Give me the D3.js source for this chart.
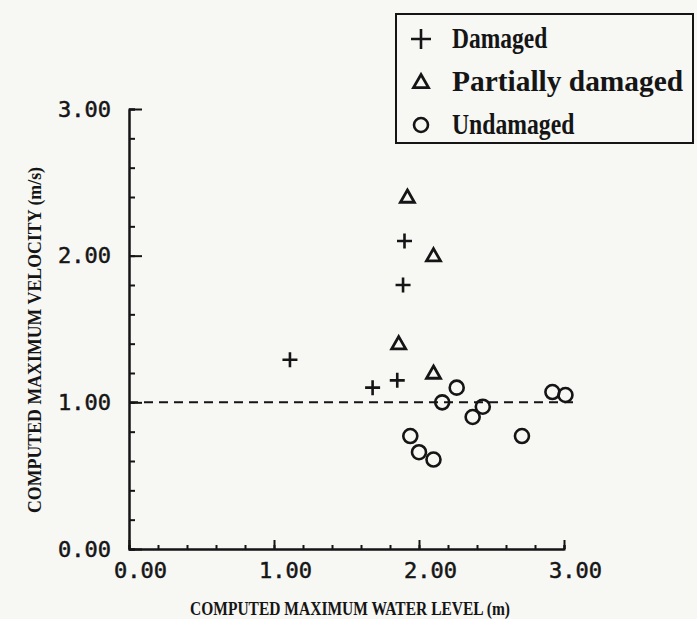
<!DOCTYPE html>
<html>
<head>
<meta charset="utf-8">
<script src="https://cdn.jsdelivr.net/npm/d3@7"></script>
<style>
  html, body { margin: 0; padding: 0; background: #f7f7f4; }
</style>
</head>
<body>
<div id="svg-holder"></div>
<script>
var width = 697;
var height = 619;

// values
var damagedX = [1.11, 1.90, 1.89, 1.85, 1.68];
var damagedY = [1.29, 2.10, 1.80, 1.15, 1.10];
var partialX = [1.92, 2.10, 1.86, 2.10];
var partialY = [2.40, 2.00, 1.40, 1.20];
var undamagedX = [2.26, 2.16, 2.44, 2.37, 1.94, 2.00, 2.10, 2.71, 2.92, 3.01];
var undamagedY = [1.10, 1.00, 0.97, 0.90, 0.77, 0.66, 0.61, 0.77, 1.07, 1.05];
var majorTicks = [0, 1, 2, 3];
var minorTicks = d3.range(0, 3.001, 0.2);
var tickLabels = ["0.00", "1.00", "2.00", "3.00"];
var threshold = 1.0;
var legendLabels = ["Damaged", "Partially damaged", "Undamaged"];
var xTitle = "COMPUTED MAXIMUM WATER LEVEL (m)";
var yTitle = "COMPUTED MAXIMUM VELOCITY (m/s)";

var ink = "#151515";
var typeFont = "Liberation Serif";

var svg = d3.select('#svg-holder').append('svg')
            .attr("width", width)
            .attr("height", height);

svg.append('rect').attr('width', width).attr('height', height).attr('fill', '#f7f7f4');

var x = d3.scaleLinear().domain([0, 3]).range([129, 564]);
var y = d3.scaleLinear().domain([0, 3]).range([549, 109]);

drawAxes();
drawPoints();
drawLegend();

function drawAxes() {
    // minor ticks
    var gxMinor = svg.append('g').attr('transform', 'translate(0,' + y(0) + ')')
        .call(d3.axisBottom(x).tickValues(minorTicks).tickSize(-4).tickFormat(''));
    var gyMinor = svg.append('g').attr('transform', 'translate(' + x(0) + ',0)')
        .call(d3.axisLeft(y).tickValues(minorTicks).tickSize(-6).tickFormat(''));

    // major ticks + labels
    var gx = svg.append('g').attr('transform', 'translate(0,' + y(0) + ')')
        .call(d3.axisBottom(x).tickValues(majorTicks).tickSize(-9).tickSizeOuter(0)
              .tickPadding(13).tickFormat(function(d, i) { return tickLabels[i]; }));
    var gy = svg.append('g').attr('transform', 'translate(' + x(0) + ',0)')
        .call(d3.axisLeft(y).tickValues(majorTicks).tickSize(-13).tickSizeOuter(0)
              .tickPadding(18).tickFormat(function(d, i) { return tickLabels[i]; }));

    [gxMinor, gyMinor, gx, gy].forEach(function(g) {
        g.selectAll('path.domain').attr('stroke', ink).attr('stroke-width', 2);
        g.selectAll('.tick line').attr('stroke', ink).attr('stroke-width', 2);
        g.selectAll('text')
            .attr('fill', ink)
            .attr('stroke', ink).attr('stroke-width', 0.5)
            .attr('font-family', 'DejaVu Sans Mono')
            .attr('font-size', 22);
    });
    gx.selectAll('text').attr('dx', 11);

    // dashed reference line
    svg.append('line')
        .attr('x1', x(0)).attr('x2', x(3.07))
        .attr('y1', y(threshold)).attr('y2', y(threshold))
        .attr('stroke', ink).attr('stroke-width', 2)
        .attr('stroke-dasharray', '9,6');

    svg.append('text')
        .attr('x', 350).attr('y', 615)
        .attr('text-anchor', 'middle')
        .attr('font-family', typeFont).attr('font-weight', 'bold')
        .attr('font-size', 18).attr('fill', ink)
        .attr('textLength', 320).attr('lengthAdjust', 'spacingAndGlyphs')
        .text(xTitle);

    svg.append('text')
        .attr('transform', 'translate(41,340) rotate(-90)')
        .attr('text-anchor', 'middle')
        .attr('font-family', typeFont).attr('font-weight', 'bold')
        .attr('font-size', 18).attr('fill', ink)
        .attr('textLength', 346).attr('lengthAdjust', 'spacingAndGlyphs')
        .text(yTitle);
}

function plus(g, s) {
    g.append('path').attr('d', 'M' + (-s) + ',0H' + s + 'M0,' + (-s) + 'V' + s)
        .attr('stroke', ink).attr('stroke-width', 2.6).attr('fill', 'none');
}
function triangle(g, s) {
    g.append('path').attr('d', 'M0,' + (-s) + 'L' + s + ',' + (s * 0.75) + 'L' + (-s) + ',' + (s * 0.75) + 'Z')
        .attr('stroke', ink).attr('stroke-width', 2.8).attr('fill', 'none')
        .attr('stroke-linejoin', 'miter');
}
function ring(g, r) {
    g.append('circle').attr('r', r)
        .attr('stroke', ink).attr('stroke-width', 2.6).attr('fill', 'none');
}

function drawPoints() {
    svg.selectAll('g.damaged')
        .data(damagedX)
        .enter().append('g')
        .attr('class', 'damaged')
        .attr('transform', function(d, i) { return 'translate(' + x(d) + ',' + y(damagedY[i]) + ')'; })
        .each(function() { plus(d3.select(this), 7.5); });

    svg.selectAll('g.partial')
        .data(partialX)
        .enter().append('g')
        .attr('class', 'partial')
        .attr('transform', function(d, i) { return 'translate(' + x(d) + ',' + y(partialY[i]) + ')'; })
        .each(function() { triangle(d3.select(this), 7); });

    svg.selectAll('g.undamaged')
        .data(undamagedX)
        .enter().append('g')
        .attr('class', 'undamaged')
        .attr('transform', function(d, i) { return 'translate(' + x(d) + ',' + y(undamagedY[i]) + ')'; })
        .each(function() { ring(d3.select(this), 7); });
}

function drawLegend() {
    var lg = svg.append('g');
    lg.append('rect')
        .attr('x', 396).attr('y', 14)
        .attr('width', 297).attr('height', 129)
        .attr('fill', 'none').attr('stroke', ink).attr('stroke-width', 2);

    var rows = lg.selectAll('g.row')
        .data(legendLabels)
        .enter().append('g')
        .attr('class', 'row')
        .attr('transform', function(d, i) { return 'translate(421,' + (39 + i * 43) + ')'; });

    rows.each(function(d, i) {
        var g = d3.select(this);
        if (i === 0) plus(g, 10);
        else if (i === 1) triangle(g, 7.5);
        else ring(g, 7);
    });

    rows.append('text')
        .attr('x', 31).attr('y', 9)
        .attr('font-family', typeFont).attr('font-weight', 'bold')
        .attr('font-size', 29).attr('fill', ink)
        .attr('textLength', function(d) { return d.length * 13.6; })
        .attr('lengthAdjust', 'spacingAndGlyphs')
        .text(function(d) { return d; });
}
</script>
</body>
</html>
